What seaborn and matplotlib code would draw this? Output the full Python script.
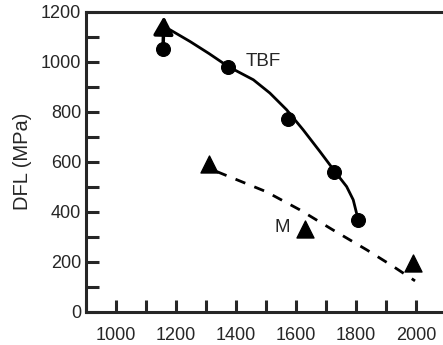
import matplotlib
matplotlib.use("Agg")
import matplotlib.pyplot as plt
import seaborn as sns

# TBF data points and fitted curve
tbf_x = [1157, 1375, 1573, 1728, 1808]
tbf_y = [1050, 980, 773, 561, 366]
tbf_curve_x = [1180, 1247, 1310, 1374, 1458, 1513, 1569, 1624, 1680, 1730, 1769, 1791, 1802, 1806]
tbf_curve_y = [1128, 1081, 1033, 981, 928, 875, 808, 728, 641, 561, 501, 448, 395, 380]

# M data points and dashed trend
m_x = [1310, 1630, 1991]
m_y = [590, 330, 196]
m_curve_x = [1336, 1500, 1613, 1720, 1836, 1920, 1997]
m_curve_y = [561, 481, 408, 330, 248, 185, 124]

sns.set_style("ticks")
plt.rcParams["font.family"] = ["Liberation Sans", "DejaVu Sans"]

fig = plt.figure(figsize=(4.43, 3.45), dpi=100)
ax = fig.add_axes([0.194, 0.096, 0.8126, 0.870])

sns.lineplot(x=tbf_curve_x, y=tbf_curve_y, sort=False, color="black", lw=2, ax=ax)
sns.lineplot(x=m_curve_x, y=m_curve_y, sort=False, color="black", lw=2,
             linestyle=(0, (3.8, 3.5)), ax=ax)
sns.scatterplot(x=tbf_x, y=tbf_y, marker="o", s=100, color="black", edgecolor="black", ax=ax, zorder=3)
sns.scatterplot(x=m_x, y=m_y, marker="^", s=150, color="black", edgecolor="black", ax=ax, zorder=3)

# arrow from first TBF point (lower bound)
ax.annotate("", xy=(1160, 1182), xytext=(tbf_x[0], tbf_y[0]),
            arrowprops=dict(arrowstyle="-|>,head_length=1.1,head_width=0.6",
                            color="black", lw=2.5, mutation_scale=10,
                            shrinkA=0, shrinkB=0))

ax.text(1490, 1000, "TBF", fontsize=13.5, ha="center", va="center")
ax.text(1553, 336, "M", fontsize=13.5, ha="center", va="center")

ax.set_xlim(900, 2100)
ax.set_ylim(0, 1200)
ax.set_xticks([1000, 1200, 1400, 1600, 1800, 2000])
ax.set_xticks(range(900, 2101, 100), minor=True)
ax.set_yticks(range(0, 1201, 200))
ax.set_yticks(range(0, 1201, 100), minor=True)
ax.tick_params(which="both", direction="in", length=9, width=2.2, labelsize=13)
ax.tick_params(axis="x", pad=11)
ax.set_ylabel("DFL (MPa)", fontsize=14.5, labelpad=6)
ax.set_xlabel("")

for side in ["left", "bottom", "top"]:
    ax.spines[side].set_linewidth(2.2)
ax.spines["right"].set_visible(False)

fig.savefig("out.png", dpi=100)
